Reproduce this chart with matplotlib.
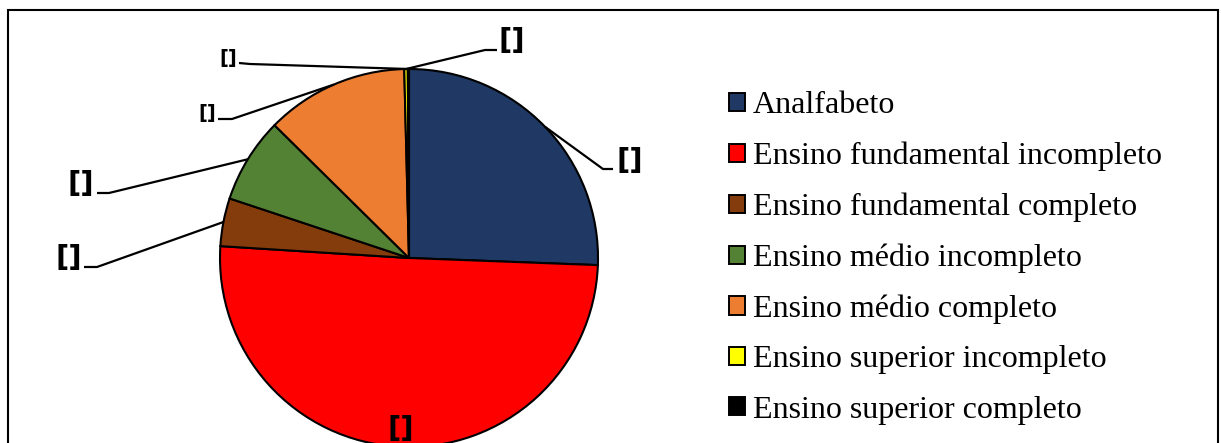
import numpy as np
import matplotlib.pyplot as plt
from matplotlib.patches import Patch, Rectangle

W, H = 1221, 443

categorias = ['Analfabeto', 'Ensino fundamental incompleto', 'Ensino fundamental completo',
              'Ensino médio incompleto', 'Ensino médio completo',
              'Ensino superior incompleto', 'Ensino superior completo']
percentuais = [25.6, 50.4, 4.1, 7.3, 12.2, 0.3, 0.1]
cores = ['#1F3864', '#FF0000', '#843C0C', '#548235', '#ED7D31', '#FFFF00', '#000000']
rotulos = ['[]'] * 7

# label placement: (elbow, line end, text centre, font size) in pixels from top-left
layout = [
    ((603, 169), (613, 169), (630, 161), 21),
    (None, None, (401, 429), 21),
    ((97, 267), (84, 267), (69, 258), 21),
    ((109, 193), (97, 193), (81, 184), 21),
    ((232, 119), (218, 119), (207, 113), 14),
    ((485, 50), (497, 50), (512, 41), 21),
    ((250, 64), (239, 63), (228, 58), 14),
]

def P(x, y):
    return (x, H - y)

fig = plt.figure(figsize=(W / 100, H / 100), dpi=100)
ax = fig.add_axes([0, 0, 1, 1])

wedges, _ = ax.pie(percentuais, colors=cores, startangle=90, counterclock=False,
                   center=P(409, 258), radius=189, frame=True,
                   wedgeprops=dict(edgecolor='black', linewidth=1.5))
ax.set_xlim(0, W)
ax.set_ylim(0, H)
ax.axis('off')

for w, txt, (elbow, end, pos, fs) in zip(wedges, rotulos, layout):
    if elbow is not None:
        a = np.deg2rad((w.theta1 + w.theta2) / 2)
        cx, cy = w.center
        x0, y0 = cx + w.r * np.cos(a), cy + w.r * np.sin(a)
        ex, ey = P(*elbow)
        fx, fy = P(*end)
        ax.plot([x0, ex, fx], [y0, ey, fy], color='black', lw=1.6, solid_capstyle='butt')
    ax.text(*P(*pos), txt, ha='center', va='center', fontsize=fs,
            fontweight='bold', family='DejaVu Sans')

# outer frame
fig.patches.append(Rectangle((8 / W, -0.1), 1210 / W, 1.1 - 10 / H, transform=fig.transFigure,
                             fill=False, edgecolor='black', linewidth=1.5))

handles = [Patch(facecolor=c, edgecolor='black', linewidth=1.4) for c in cores]
ax.legend(handles, categorias, loc='center left', bbox_to_anchor=(729 / W, 1 - 258 / H),
          bbox_transform=fig.transFigure, frameon=False, borderpad=0, borderaxespad=0,
          prop={'family': 'Liberation Serif', 'size': 23},
          handlelength=0.5, handleheight=0.5, handletextpad=0.25, labelspacing=0.67)

fig.savefig('out.png', dpi=100)
